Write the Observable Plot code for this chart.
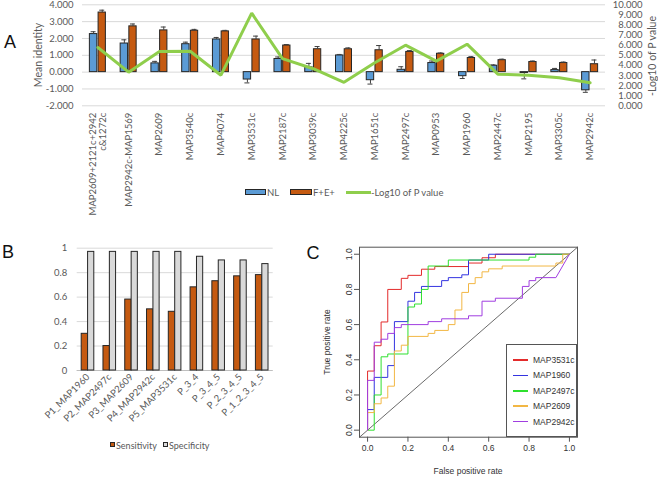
<!DOCTYPE html>
<html><head><meta charset="utf-8">
<script src="https://cdn.jsdelivr.net/npm/d3@7"></script>
<script src="https://cdn.jsdelivr.net/npm/@observablehq/plot@0.6"></script>
<style>
body{margin:0;background:#fff;}
#root{position:relative;width:658px;height:480px;overflow:hidden;background:#fff;}
.abs{position:absolute;}
.abs svg{display:block;}
.txt{position:absolute;white-space:nowrap;line-height:1;}
</style></head><body><div id="root"></div>
<script>
// ---------- Panel A data ----------
const markersA = ["MAP2609+2121c+2942c&1272c","MAP2942c-MAP1569","MAP2609","MAP3540c","MAP4074","MAP3531c","MAP2187c","MAP3039c","MAP4225c","MAP1651c","MAP2497c","MAP0953","MAP1960","MAP2447c","MAP2195","MAP3305c","MAP2942c"];
const markerLabelsA = ["MAP2609+2121c+2942\nc&1272c","MAP2942c-MAP1569","MAP2609","MAP3540c","MAP4074","MAP3531c","MAP2187c","MAP3039c","MAP4225c","MAP1651c","MAP2497c","MAP0953","MAP1960","MAP2447c","MAP2195","MAP3305c","MAP2942c"];
const nlMean = [2.26, 1.70, 0.52, 1.66, 1.94, -0.44, 0.78, 0.28, 0.99, -0.48, 0.14, 0.54, -0.24, 0.38, -0.05, 0.12, -1.08];
const nlErr  = [0.14, 0.22, 0.12, 0.12, 0.12, 0.20, 0.12, 0.24, 0.06, 0.23, 0.18, 0.12, 0.14, 0.05, 0.35, 0.10, 0.12];
const feMean = [3.54, 2.72, 2.48, 2.46, 2.42, 1.94, 1.58, 1.36, 1.36, 1.30, 1.20, 1.09, 0.84, 0.71, 0.60, 0.54, 0.47];
const feErr  = [0.14, 0.14, 0.20, 0.08, 0.06, 0.20, 0.06, 0.16, 0.08, 0.28, 0.08, 0.05, 0.08, 0.06, 0.06, 0.06, 0.25];
const logP   = [5.77, 3.33, 5.37, 5.40, 3.03, 9.17, 4.67, 3.67, 2.33, 4.26, 6.00, 4.42, 6.10, 3.13, 3.03, 2.77, 2.28];
const leftTicksA = [-2, -1, 0, 1, 2, 3, 4];
const rightTicksA = [0, 1, 2, 3, 4, 5, 6, 7, 8, 9, 10];

// ---------- Panel B data ----------
const panelsB = ["P1_MAP1960","P2_MAP2497c","P3_MAP2609","P4_MAP2942c","P5_MAP3531c","P_3_4","P_3_4_5","P_2_3_4_5","P_1_2_3_4_5"];
const sensitivity = [0.30, 0.20, 0.58, 0.50, 0.48, 0.68, 0.73, 0.77, 0.78];
const specificity = [0.97, 0.97, 0.97, 0.97, 0.97, 0.93, 0.90, 0.90, 0.87];
const ticksB = [0, 0.2, 0.4, 0.6, 0.8, 1];

// ---------- Panel C data (fpr, tpr) ----------
const rocNames = ["MAP3531c","MAP1960","MAP2497c","MAP2609","MAP2942c"];
const rocColors = ["#e32b2b","#3434e0","#2fe02f","#f2b744","#a03ee0"];
const roc3531c = [[0,0],[0,0.336],[0.033,0.336],[0.033,0.48],[0.067,0.48],[0.067,0.615],[0.1,0.615],[0.1,0.8],[0.167,0.8],[0.167,0.863],[0.2,0.863],[0.2,0.88],[0.267,0.88],[0.267,0.915],[0.333,0.915],[0.333,0.93],[0.5,0.93],[0.5,0.95],[0.567,0.95],[0.567,0.98],[0.633,0.98],[0.633,1],[1,1]];
const roc1960 = [[0,0],[0,0.117],[0.033,0.117],[0.033,0.3],[0.1,0.3],[0.1,0.367],[0.133,0.367],[0.133,0.617],[0.2,0.617],[0.2,0.733],[0.233,0.733],[0.233,0.783],[0.267,0.783],[0.267,0.817],[0.367,0.817],[0.367,0.85],[0.4,0.85],[0.4,0.867],[0.467,0.867],[0.467,0.883],[0.5,0.883],[0.5,0.967],[0.6,0.967],[0.6,1],[1,1]];
const roc2497c = [[0,0],[0.033,0],[0.033,0.2],[0.067,0.2],[0.067,0.417],[0.1,0.417],[0.1,0.433],[0.2,0.433],[0.2,0.7],[0.233,0.7],[0.233,0.717],[0.267,0.717],[0.267,0.8],[0.3,0.8],[0.3,0.933],[0.4,0.933],[0.4,0.967],[0.8,0.967],[0.8,0.983],[0.833,0.983],[0.833,1],[1,1]];
const roc2609 = [[0,0],[0,0.1],[0.033,0.1],[0.033,0.15],[0.067,0.15],[0.067,0.183],[0.1,0.183],[0.1,0.25],[0.133,0.25],[0.133,0.45],[0.167,0.45],[0.167,0.483],[0.2,0.483],[0.2,0.533],[0.3,0.533],[0.3,0.55],[0.333,0.55],[0.333,0.567],[0.4,0.567],[0.4,0.6],[0.433,0.6],[0.433,0.683],[0.467,0.683],[0.467,0.783],[0.5,0.783],[0.5,0.833],[0.533,0.833],[0.533,0.867],[0.567,0.867],[0.567,0.9],[0.6,0.9],[0.6,0.917],[0.667,0.917],[0.667,0.933],[0.933,0.933],[0.933,0.95],[0.967,0.95],[0.967,1],[1,1]];
const roc2942c = [[0,0],[0,0.283],[0.033,0.283],[0.033,0.5],[0.067,0.5],[0.067,0.517],[0.1,0.517],[0.1,0.55],[0.133,0.55],[0.133,0.583],[0.167,0.583],[0.167,0.6],[0.3,0.6],[0.3,0.617],[0.367,0.617],[0.367,0.633],[0.5,0.633],[0.5,0.65],[0.567,0.65],[0.567,0.733],[0.633,0.733],[0.633,0.75],[0.767,0.75],[0.767,0.817],[0.8,0.817],[0.8,0.85],[0.833,0.85],[0.833,0.867],[0.933,0.867],[1,1]];
const ticksC = [0, 0.2, 0.4, 0.6, 0.8, 1];
const domainC = [-0.04, 1.04];

// ---------- helpers ----------
const root = document.getElementById("root");
function place(node, left, top) {
  const d = document.createElement("div");
  d.className = "abs"; d.style.left = left + "px"; d.style.top = top + "px";
  d.appendChild(node); root.appendChild(d); return d;
}
function text(str, x, y, css = {}, rotate = 0, anchor = "center") {
  const d = document.createElement("div");
  d.className = "txt"; d.textContent = str;
  d.style.left = x + "px"; d.style.top = y + "px";
  const tx = anchor === "center" ? "-50%" : anchor === "end" ? "-100%" : "0";
  d.style.transform = `translate(${tx},-50%) rotate(${rotate}deg)`;
  Object.assign(d.style, css);
  root.appendChild(d); return d;
}
function box(x, y, w, h, css) {
  const d = document.createElement("div");
  d.style.position = "absolute"; d.style.left = x + "px"; d.style.top = y + "px";
  d.style.width = w + "px"; d.style.height = h + "px";
  d.style.boxSizing = "border-box";
  Object.assign(d.style, css); root.appendChild(d); return d;
}

const FA = "Lato, 'Open Sans', sans-serif";
const FR = "'Liberation Sans', Arial, sans-serif";
const GRAY = "#595959";

// ---------- Panel A ----------
const rowsNL = markersA.map((m, i) => ({marker: m, value: nlMean[i], end: nlMean[i] + Math.sign(nlMean[i]) * nlErr[i]}));
const rowsFE = markersA.map((m, i) => ({marker: m, value: feMean[i], end: feMean[i] + Math.sign(feMean[i]) * feErr[i]}));
const rowsP = markersA.map((m, i) => ({marker: m, p: logP[i]}));
const mA = {width: 658, height: 230, marginLeft: 82, marginRight: 53, marginTop: 4.3, marginBottom: 124.7};
const half = (658 - 82 - 53) / 17 / 2;
const errStroke = "#404040";

const plotA = Plot.plot({
  ...mA,
  style: {fontFamily: FA, fontSize: "9.5px", color: GRAY, background: "transparent", overflow: "visible"},
  x: {domain: markersA, padding: 0, round: false},
  y: {domain: [-2, 4]},
  marks: [
    Plot.gridY(leftTicksA, {stroke: "#d9d9d9", strokeOpacity: 1}),
    Plot.axisY(leftTicksA, {tickSize: 0, tickPadding: 9, tickFormat: d => d.toFixed(3), label: null, fill: GRAY}),
    Plot.axisX({tickSize: 0, tickPadding: 7, tickRotate: -90, label: null, fill: GRAY,
      tickFormat: d => markerLabelsA[markersA.indexOf(d)]}),
    Plot.barY(rowsNL, {x: "marker", y: "value", fill: "#5b9bd5", stroke: "#262626", strokeWidth: 1, insetLeft: half - 8, insetRight: half + 0.6}),
    Plot.barY(rowsFE, {x: "marker", y: "value", fill: "#c55a11", stroke: "#262626", strokeWidth: 1, insetLeft: half + 0.7, insetRight: half - 8}),
    Plot.ruleX(rowsNL, {x: "marker", y1: "value", y2: "end", dx: -4.3, stroke: errStroke}),
    Plot.tickY(rowsNL, {x: "marker", y: "end", insetLeft: half - 4.3 - 2.5, insetRight: half + 4.3 - 2.5, stroke: errStroke}),
    Plot.ruleX(rowsFE, {x: "marker", y1: "value", y2: "end", dx: 4.35, stroke: errStroke}),
    Plot.tickY(rowsFE, {x: "marker", y: "end", insetLeft: half + 4.35 - 2.5, insetRight: half - 4.35 - 2.5, stroke: errStroke})
  ]
});
place(plotA, 0, 0);

const plotA2 = Plot.plot({
  ...mA,
  style: {fontFamily: FA, fontSize: "9.5px", color: GRAY, background: "transparent", overflow: "visible"},
  x: {type: "point", domain: markersA, padding: 0.5, round: false, axis: null},
  y: {domain: [0, 10], axis: null},
  marks: [
    Plot.line(rowsP, {x: "marker", y: "p", stroke: "#8fce4c", strokeWidth: 3, strokeLinejoin: "miter"}),
    Plot.text(rightTicksA, {y: d => d, text: d => d.toFixed(3), frameAnchor: "right", textAnchor: "end", dx: 37, fill: GRAY})
  ]
});
place(plotA2, 0, 0);

text("A", 10, 42, {fontFamily: FR, fontSize: "18px", color: "#111"});
text("Mean identity", 38, 55, {fontFamily: FA, fontSize: "10.5px", color: GRAY}, -90);
text("-Log10 of P value", 652, 56, {fontFamily: FA, fontSize: "10.5px", color: GRAY}, -90);
// legend A
box(245, 189, 21, 6, {background: "#5b9bd5", border: "1px solid #262626"});
text("NL", 267, 192.5, {fontFamily: FA, fontSize: "9.5px", color: GRAY}, 0, "start");
box(290, 189, 22, 6, {background: "#c55a11", border: "1px solid #262626"});
text("F+E+", 313, 192.5, {fontFamily: FA, fontSize: "9.5px", color: GRAY}, 0, "start");
box(346, 190.5, 25, 3, {background: "#8fce4c"});
text("-Log10 of P value", 371, 192.5, {fontFamily: FA, fontSize: "9.5px", color: GRAY}, 0, "start");

// ---------- Panel B ----------
const rowsB = panelsB.map((p, i) => ({panel: p, sens: sensitivity[i], spec: specificity[i]}));
const halfB = (320 - 76.7 - 47.3) / 9 / 2;
const plotB = Plot.plot({
  width: 320, height: 200, marginLeft: 76.7, marginRight: 47.3, marginTop: 22.7, marginBottom: 55,
  style: {fontFamily: FA, fontSize: "9.5px", color: GRAY, background: "transparent", overflow: "visible"},
  x: {domain: panelsB, padding: 0, round: false},
  y: {domain: [0, 1]},
  marks: [
    Plot.gridY(ticksB, {stroke: "#d9d9d9", strokeOpacity: 1}),
    Plot.ruleY([0], {stroke: "#bfbfbf"}),
    Plot.axisY(ticksB, {tickSize: 0, tickPadding: 10, tickFormat: d => String(d), label: null, fill: GRAY}),
    Plot.axisX({tickSize: 0, tickPadding: 5, tickRotate: -45, label: null, fill: GRAY}),
    Plot.barY(rowsB, {x: "panel", y: "sens", fill: "#c55a11", stroke: "#262626", strokeWidth: 1, insetLeft: halfB - 6.4, insetRight: halfB}),
    Plot.barY(rowsB, {x: "panel", y: "spec", fill: "#d9d9d9", stroke: "#262626", strokeWidth: 1, insetLeft: halfB, insetRight: halfB - 6.2})
  ]
});
place(plotB, 0, 225);
text("B", 8, 252, {fontFamily: FR, fontSize: "18px", color: "#111"});
box(110, 441.5, 5, 5, {background: "#c55a11", border: "1px solid #262626"});
text("Sensitivity", 116, 444.5, {fontFamily: FA, fontSize: "9px", color: GRAY}, 0, "start");
box(163, 441.5, 5, 5, {background: "#d9d9d9", border: "1px solid #262626"});
text("Specificity", 169, 444.5, {fontFamily: FA, fontSize: "9px", color: GRAY}, 0, "start");

// ---------- Panel C ----------
const rocSeries = [roc3531c, roc1960, roc2497c, roc2609, roc2942c];
const rowsC = rocSeries.flatMap((pts, k) => pts.map(([fpr, tpr]) => ({name: rocNames[k], fpr, tpr})));
const plotC = Plot.plot({
  width: 338, height: 255, marginLeft: 39, marginRight: 81, marginTop: 21.7, marginBottom: 43.3,
  style: {fontFamily: FR, fontSize: "8.5px", color: "#333", background: "transparent", overflow: "visible"},
  x: {domain: domainC},
  y: {domain: domainC},
  color: {domain: rocNames, range: rocColors},
  marks: [
    Plot.line(domainC, {x: d => d, y: d => d, stroke: "#444", strokeWidth: 0.8}),
    Plot.line(rowsC, {x: "fpr", y: "tpr", z: "name", stroke: "name", strokeWidth: 1}),
    Plot.frame({stroke: "#555"}),
    Plot.axisX(ticksC, {tickSize: 5, tickPadding: 3, tickFormat: d => d.toFixed(1), label: null, stroke: "#555", fill: "#333"}),
    Plot.axisY(ticksC, {tickSize: 5, tickPadding: 3, tickRotate: -90, tickFormat: d => d.toFixed(1), label: null, stroke: "#555", fill: "#333"})
  ]
});
place(plotC, 320, 225);
text("C", 313, 253, {fontFamily: FR, fontSize: "18px", color: "#111"});
text("False positive rate", 468, 471, {fontFamily: FR, fontSize: "8.5px", color: "#333"});
text("True positive rate", 327, 342, {fontFamily: FR, fontSize: "8.5px", color: "#333"}, -90);
// legend C
box(505.7, 344.3, 71.3, 92.4, {background: "#fff", border: "1px solid #555"});
rocNames.forEach((n, k) => {
  const y = 360 + k * 15.4;
  box(513, y - 0.75, 15, 1.5, {background: rocColors[k]});
  text(n, 533, y, {fontFamily: FR, fontSize: "8.5px", color: "#333"}, 0, "start");
});
</script></body></html>
